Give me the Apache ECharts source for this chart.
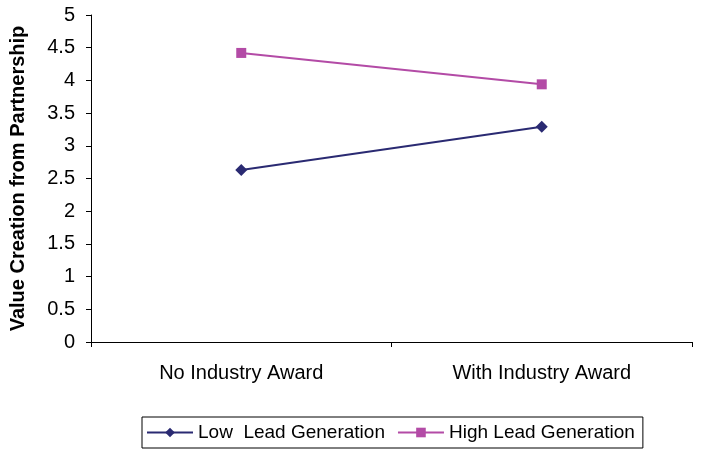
<!DOCTYPE html>
<html>
<head>
<meta charset="utf-8">
<script src="https://cdn.jsdelivr.net/npm/echarts@6/dist/echarts.min.js"></script>
<style>
  html, body { margin: 0; padding: 0; background: #fff; }
  #main { width: 708px; height: 451px; }
</style>
</head>
<body>
<div id="main"></div>
<script>
const categories = ['No Industry Award', 'With Industry Award'];
const lowLead = [2.63, 3.29];
const highLead = [4.42, 3.94];
const seriesNames = ['Low  Lead Generation', 'High Lead Generation'];

const chart = echarts.init(document.getElementById('main'));
const font = 'Liberation Sans, Arial, sans-serif';
const option = {
  animation: false,
  grid: { left: 91, right: 16, top: 15, bottom: 109 },
  legend: {
    bottom: 3,
    left: 142,
    itemGap: 12,
    itemWidth: 46,
    itemHeight: 12,
    padding: [6, 8, 6, 4],
    borderColor: '#000',
    borderWidth: 1,
    borderRadius: 0,
    textStyle: { fontFamily: font, fontSize: 19, color: '#000' },
    data: seriesNames
  },
  xAxis: {
    type: 'category',
    data: categories,
    boundaryGap: true,
    axisLine: { lineStyle: { color: '#000', width: 1 } },
    axisTick: { show: true, length: 5, lineStyle: { color: '#000' } },
    axisLabel: { fontFamily: font, fontSize: 20, color: '#000', margin: 21 },
    splitLine: { show: false }
  },
  yAxis: {
    type: 'value',
    min: 0,
    max: 5,
    interval: 0.5,
    name: 'Value Creation from Partnership',
    nameLocation: 'middle',
    nameGap: 63,
    nameTextStyle: { fontFamily: font, fontSize: 20, fontWeight: 'bold', color: '#000' },
    axisLine: { show: true, lineStyle: { color: '#000', width: 1 } },
    axisTick: { show: true, length: 5, lineStyle: { color: '#000' } },
    axisLabel: { fontFamily: font, fontSize: 20, color: '#000', margin: 16 },
    splitLine: { show: false }
  },
  series: [
    {
      name: seriesNames[0],
      type: 'line',
      data: lowLead,
      symbol: 'diamond',
      symbolSize: 12,
      itemStyle: { color: '#2a2a72' },
      lineStyle: { color: '#2a2a72', width: 2 }
    },
    {
      name: seriesNames[1],
      type: 'line',
      data: highLead,
      symbol: 'rect',
      symbolSize: 10,
      itemStyle: { color: '#b34ba6' },
      lineStyle: { color: '#b34ba6', width: 2 }
    }
  ]
};
chart.setOption(option);
</script>
</body>
</html>
